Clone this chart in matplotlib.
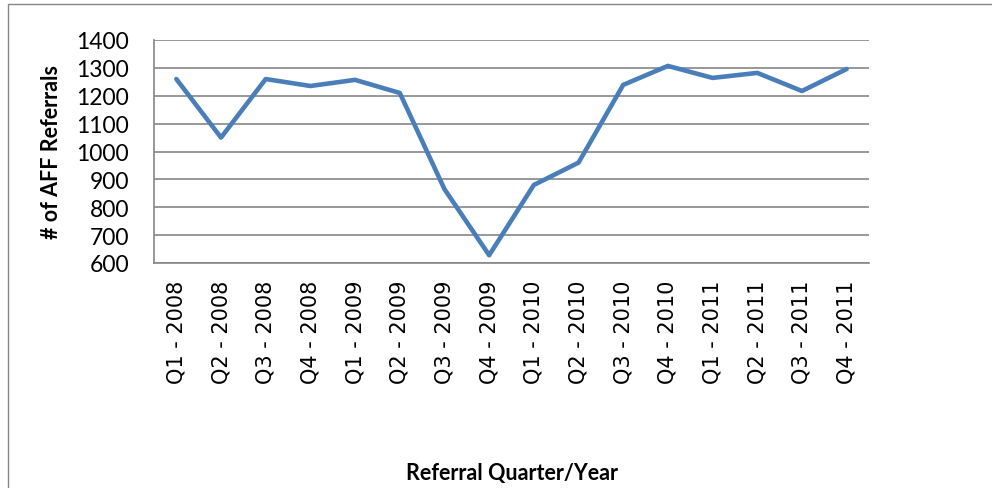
import matplotlib
matplotlib.use("Agg")
import matplotlib.pyplot as plt
from matplotlib.patches import Rectangle

quarters = ["Q1 - 2008", "Q2 - 2008", "Q3 - 2008", "Q4 - 2008",
            "Q1 - 2009", "Q2 - 2009", "Q3 - 2009", "Q4 - 2009",
            "Q1 - 2010", "Q2 - 2010", "Q3 - 2010", "Q4 - 2010",
            "Q1 - 2011", "Q2 - 2011", "Q3 - 2011", "Q4 - 2011"]
referrals = [1260, 1050, 1260, 1235, 1257, 1210, 865, 628,
             880, 960, 1239, 1307, 1264, 1282, 1217, 1296]
yticks = [600, 700, 800, 900, 1000, 1100, 1200, 1300, 1400]

W, H = 992, 489
fig = plt.figure(figsize=(W/100, H/100), dpi=100)
ax = fig.add_axes([154/W, 1-264/H, (869-154)/W, (264-41)/H])

# outer chart border
fig.patches.append(Rectangle((8/W, -0.1), 1.2, 1-5/H+0.1, transform=fig.transFigure,
                             fill=False, edgecolor="#868686", linewidth=1.0, clip_on=False))

x = list(range(len(quarters)))
ax.plot(x, referrals, color="#4A7EBB", linewidth=3.3, solid_capstyle="round", zorder=3)

ax.set_xlim(-0.5, len(quarters)-0.5)
ax.set_ylim(600, 1400)
ax.set_yticks(yticks)
ax.set_yticklabels([str(v) for v in yticks], family="Lato", fontsize=16.5)
ax.set_xticks(x)
ax.set_xticklabels(quarters, rotation=90, family="DejaVu Sans", fontsize=15)
ax.tick_params(axis="y", length=0, pad=18)
ax.tick_params(axis="x", length=0, pad=12)
ax.grid(axis="y", color="#868686", linewidth=1.2)
ax.set_axisbelow(True)
for s in ["top", "right"]:
    ax.spines[s].set_visible(False)
for s in ["left", "bottom"]:
    ax.spines[s].set_color("#868686")
    ax.spines[s].set_linewidth(1.2)

fig.text(52/W, 1-152/H, "# of AFF Referrals", rotation=90, ha="center", va="center",
         family="Lato", fontweight="bold", fontsize=15.5)
fig.text(512/W, 1-474/H, "Referral Quarter/Year", ha="center", va="center",
         family="Lato", fontweight="bold", fontsize=15.5)

fig.savefig("out.png", dpi=100)
